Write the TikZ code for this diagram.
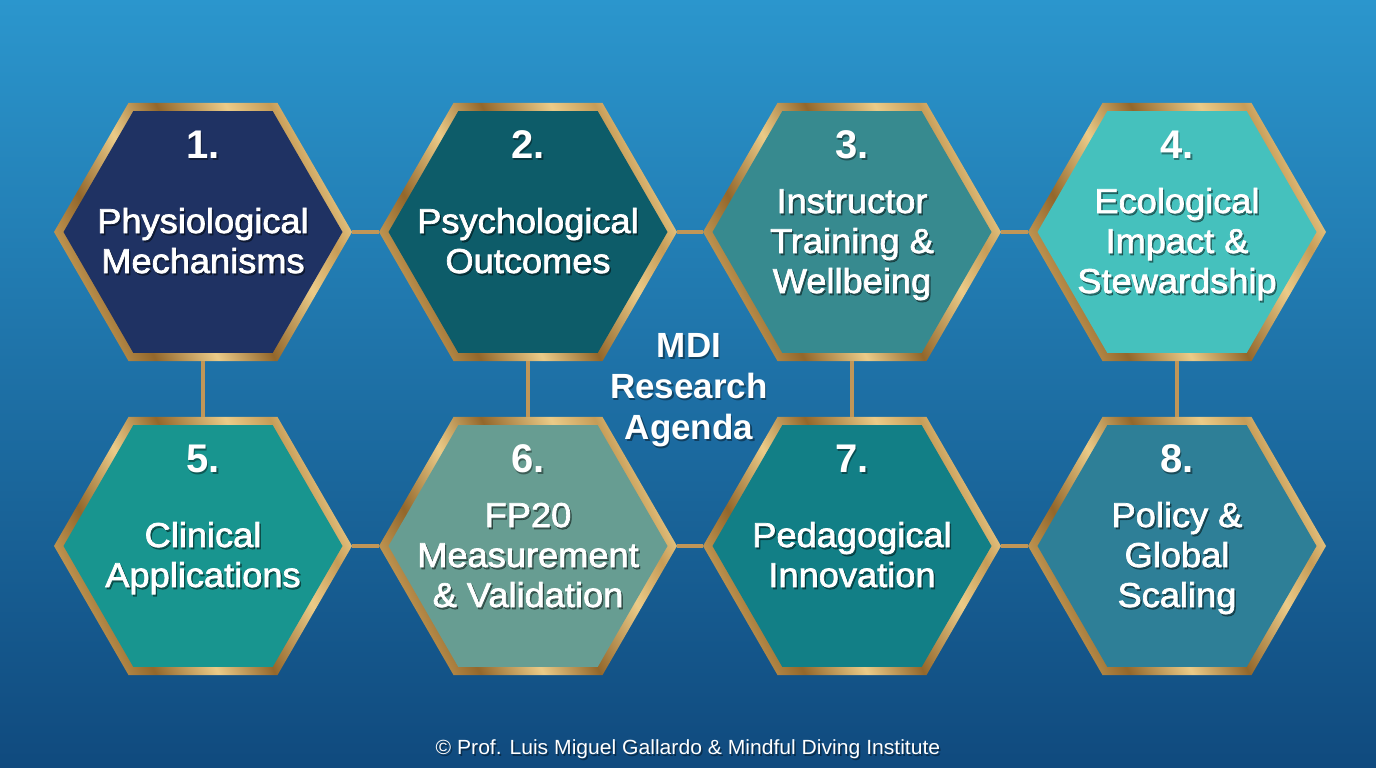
\documentclass[tikz,border=0pt]{standalone}
\usepackage{fontspec}
\setmainfont{Liberation Sans}
\newfontfamily\bodyfont[FakeBold=2,FakeStretch=1.05]{Liberation Sans}
\newfontfamily\footfont[FakeStretch=1.03]{Liberation Sans}
\usetikzlibrary{shapes.geometric}
\definecolor{bgtop}{HTML}{2B96CD}
\definecolor{bgbot}{HTML}{104A7E}
\definecolor{golddark}{HTML}{93672B}
\definecolor{goldmid}{HTML}{C69C57}
\definecolor{goldlight}{HTML}{EBCB88}
\definecolor{linkgold}{HTML}{C09658}
\definecolor{cA}{HTML}{1F3263}
\definecolor{cB}{HTML}{0D5C69}
\definecolor{cC}{HTML}{378A8F}
\definecolor{cD}{HTML}{45C1BD}
\definecolor{cE}{HTML}{18958F}
\definecolor{cF}{HTML}{679D92}
\definecolor{cG}{HTML}{127F86}
\definecolor{cH}{HTML}{2E7F97}
\pgfdeclarehorizontalshading{goldrim}{100bp}{color(0bp)=(goldmid); color(25bp)=(goldmid); color(33bp)=(golddark); color(43bp)=(goldlight); color(52bp)=(golddark); color(63bp)=(goldlight); color(70bp)=(goldmid); color(75bp)=(goldlight); color(100bp)=(goldlight)}
\newcommand\tls{\rule{0pt}{30pt}}
\newcommand\bls{\rule[-30pt]{0pt}{30pt}}
\tikzset{
  hexrim/.style={regular polygon, regular polygon sides=6,
    minimum size=298pt, inner sep=0pt, outer sep=0pt, shading=goldrim, shading angle=25},
  hexcore/.style={regular polygon, regular polygon sides=6,
    minimum size=279pt, inner sep=0pt, outer sep=0pt, fill=#1},
  link/.style={draw=linkgold, line width=4pt},
  lbl/.style={text=white, align=center, inner sep=0pt},
  numfont/.style={font=\bfseries\fontsize{40}{48}\selectfont},
  bodyf/.style={font=\bodyfont\fontsize{34.5}{40}\selectfont},
  titlef/.style={font=\bfseries\fontsize{35}{41}\selectfont},
  footf/.style={font=\footfont\fontsize{20.5}{24}\selectfont},
}
% name, position, style, anchor, text
\newcommand\shtext[5]{%
  \node[lbl,#3,anchor=#4,text=black,opacity=0.4,xshift=1.5pt,yshift=-2pt] (#1s) at (#2) {#5};
  \node[lbl,#3,anchor=#4] (#1) at (#2) {#5};}
% name, x, y, colour, number, text
\newcommand\hexbox[6]{%
  \node[hexrim] (#1) at (#2,#3) {};
  \node[hexcore=#4] (#1c) at (#2,#3) {};
  \shtext{#1n}{#2,#3-74}{numfont}{base}{#5}
  \shtext{#1t}{#2,#3+21}{bodyf}{center}{#6}}
\begin{document}
\begin{tikzpicture}[x=1pt,y=-1pt]
\useasboundingbox (0,0) rectangle (1376,768);
\shade[top color=bgtop, bottom color=bgbot] (0,0) rectangle (1376,768);
\hexbox{h1}{203}{232}{cA}{1.}{\tls Physiological\\Mechanisms\bls}
\hexbox{h2}{528}{232}{cB}{2.}{\tls Psychological\\Outcomes\bls}
\hexbox{h3}{852}{232}{cC}{3.}{\tls Instructor\\Training \&\\Wellbeing\bls}
\hexbox{h4}{1177}{232}{cD}{4.}{\tls Ecological\\Impact \&\\Stewardship\bls}
\hexbox{h5}{203}{546}{cE}{5.}{\tls Clinical\\Applications\bls}
\hexbox{h6}{528}{546}{cF}{6.}{\tls FP20\\Measurement\\\& Validation\bls}
\hexbox{h7}{852}{546}{cG}{7.}{\tls Pedagogical\\Innovation\bls}
\hexbox{h8}{1177}{546}{cH}{8.}{\tls Policy \&\\Global\\Scaling\bls}
\draw[link] (h1.east) -- (h2.west);
\draw[link] (h2.east) -- (h3.west);
\draw[link] (h3.east) -- (h4.west);
\draw[link] (h5.east) -- (h6.west);
\draw[link] (h6.east) -- (h7.west);
\draw[link] (h7.east) -- (h8.west);
\draw[link] (h1.south) -- (h5.north);
\draw[link] (h2.south) -- (h6.north);
\draw[link] (h3.south) -- (h7.north);
\draw[link] (h4.south) -- (h8.north);
\shtext{mdi}{689,398}{titlef}{center}{\tls MDI\\Research\\Agenda\bls}
\shtext{foot}{688,754}{footf}{base}{© Prof. Luis Miguel Gallardo \& Mindful Diving Institute}
\end{tikzpicture}
\end{document}
